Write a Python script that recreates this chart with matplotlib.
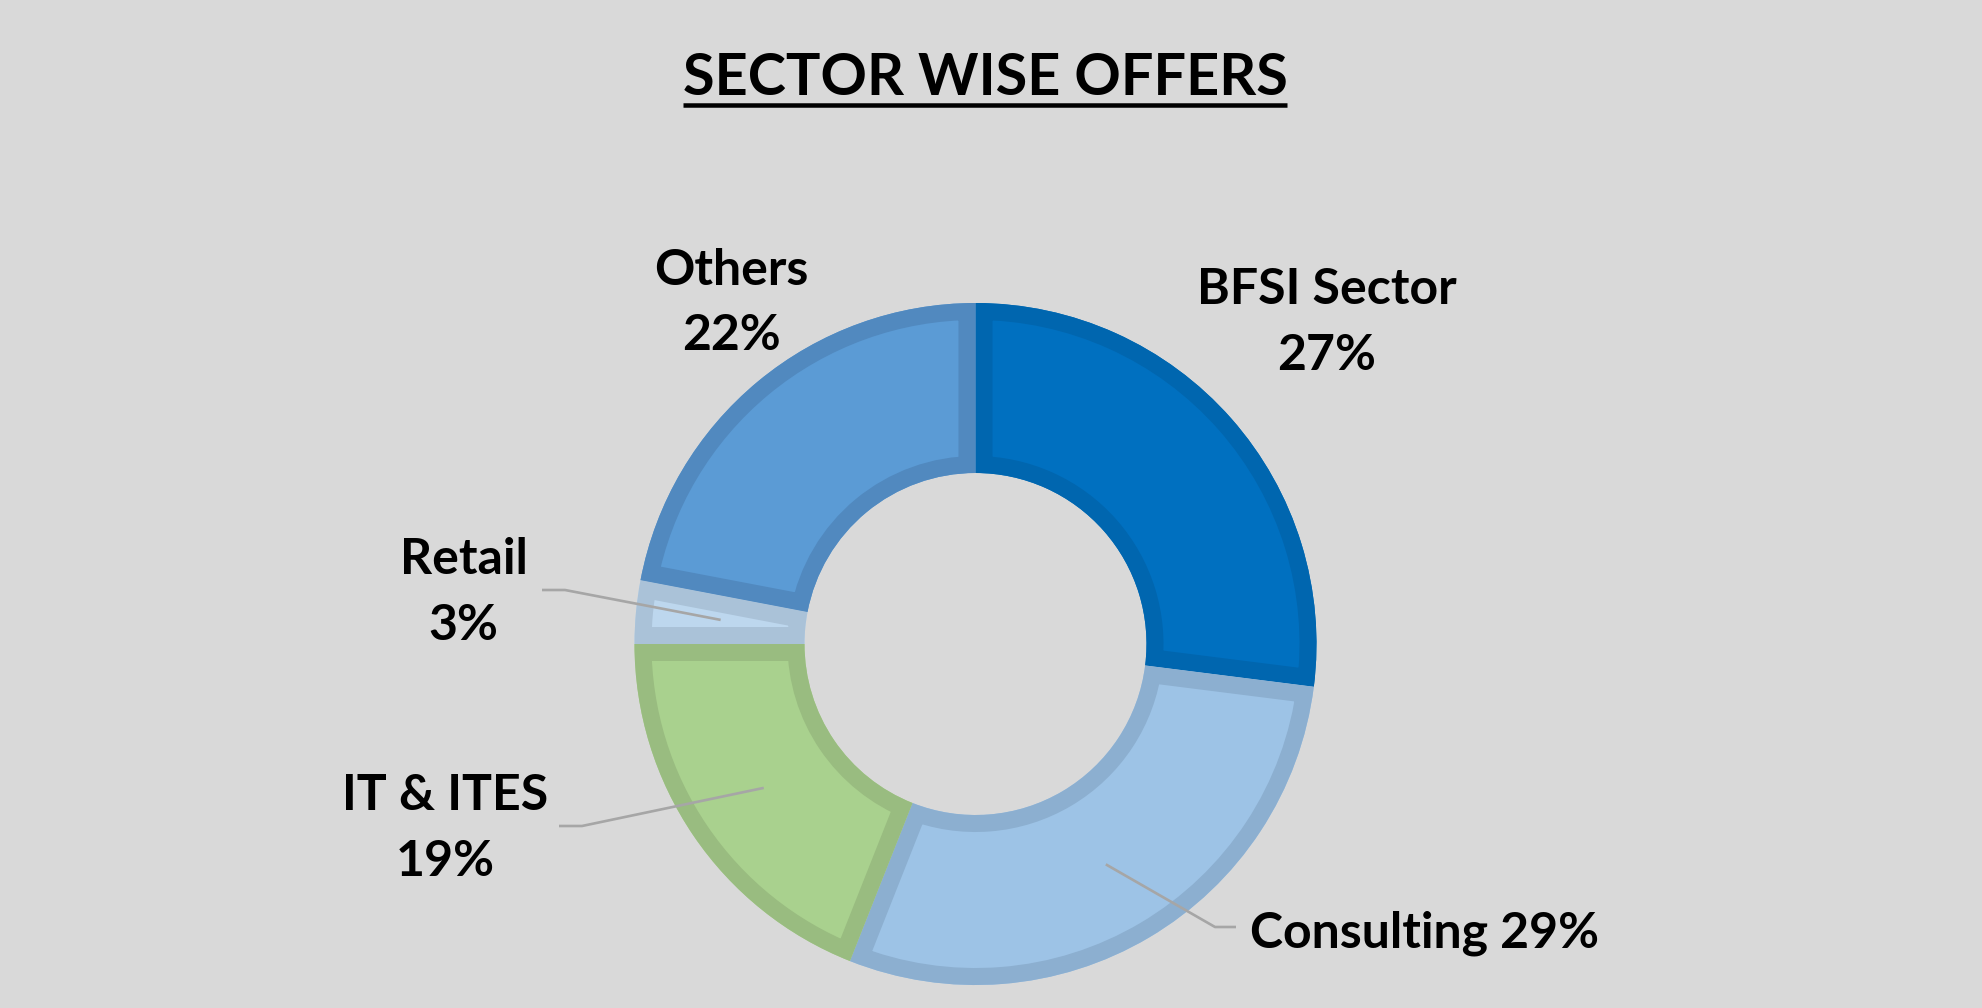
import numpy as np
import matplotlib
matplotlib.use("Agg")
import matplotlib.pyplot as plt
from matplotlib.patches import Wedge

# ---------------- data ----------------
title = "SECTOR WISE OFFERS"
sectors = ["BFSI Sector", "Consulting", "IT & ITES", "Retail", "Others"]
shares = [27, 29, 19, 3, 22]
fill_colors = ["#0070C0", "#9DC3E6", "#A9D18E", "#BDD7EE", "#5B9BD5"]
edge_colors = ["#0066AF", "#8CAFD0", "#99BC80", "#AAC2D8", "#5189BF"]

# ---------------- layout (pixels, y measured downward) ----------------
W, H = 1982, 1008
BG = "#D9D9D9"
CX, CY = 975.5, 644.0
R_OUT, R_IN = 341.0, 171.0
BORDER_PX = 17.0

plt.rcParams["font.family"] = ["Lato", "DejaVu Sans"]

fig = plt.figure(figsize=(W / 100, H / 100), dpi=100, facecolor=BG)
ax = fig.add_axes([0, 0, 1, 1])
ax.set_facecolor(BG)


def Y(y):
    return H - y


wedges, _ = ax.pie(
    shares,
    colors=fill_colors,
    startangle=90,
    counterclock=False,
    radius=R_OUT,
    center=(CX, Y(CY)),
    wedgeprops=dict(width=R_OUT - R_IN, linewidth=0),
)

# inner borders (clipped to each wedge so the border lies inside)
lw_pt = 2 * BORDER_PX * 72 / 100
for w, ec in zip(wedges, edge_colors):
    b = Wedge(w.center, w.r, w.theta1, w.theta2, width=w.width,
              facecolor="none", edgecolor=ec, linewidth=lw_pt,
              joinstyle="miter")
    ax.add_patch(b)
    b.set_clip_path(w)

ax.set_xlim(0, W)
ax.set_ylim(0, H)
ax.set_aspect("equal")
ax.axis("off")

FS = 36
# two-line labels: (index, x center, baseline name, baseline pct)
two_line = {0: (1327, 304, 370), 4: (731.5, 285, 350),
            3: (463.5, 574, 640), 2: (445.5, 810, 876)}
for i, (x, b1, b2) in two_line.items():
    ax.text(x, Y(b1), sectors[i], ha="center", va="baseline",
            fontsize=FS, fontweight="bold", color="black")
    ax.text(x, Y(b2), f"{shares[i]}%", ha="center", va="baseline",
            fontsize=FS, fontweight="bold", color="black")

# one-line label for Consulting
ax.text(1250, Y(948), f"{sectors[1]} {shares[1]}%", ha="left", va="baseline",
        fontsize=FS, fontweight="bold", color="black")

# leader lines: from wedge mid-angle (mid radius) to elbow to end
r_mid = (R_OUT + R_IN) / 2
leaders = {3: ((565, 590), (542, 590)),
           2: ((582, 826), (559, 826)),
           1: ((1215, 927), (1236, 927))}
for i, (elbow, end) in leaders.items():
    w = wedges[i]
    ang = np.deg2rad((w.theta1 + w.theta2) / 2)
    ax_x = CX + r_mid * np.cos(ang)
    ax_y = Y(CY) + r_mid * np.sin(ang)
    ax.plot([ax_x, elbow[0], end[0]], [ax_y, Y(elbow[1]), Y(end[1])],
            color="#A6A6A6", lw=1.9, solid_capstyle="butt", zorder=5)

# title with underline
t = ax.text(985, Y(95), title, ha="center", va="baseline",
            fontsize=41.5, fontweight="bold", color="black")
fig.canvas.draw()
bb = t.get_window_extent(renderer=fig.canvas.get_renderer())
ax.plot([bb.x0, bb.x1], [Y(105), Y(105)], color="black", lw=4.5 * 0.72,
        solid_capstyle="butt")

fig.savefig("out.png", dpi=100, facecolor=BG)
